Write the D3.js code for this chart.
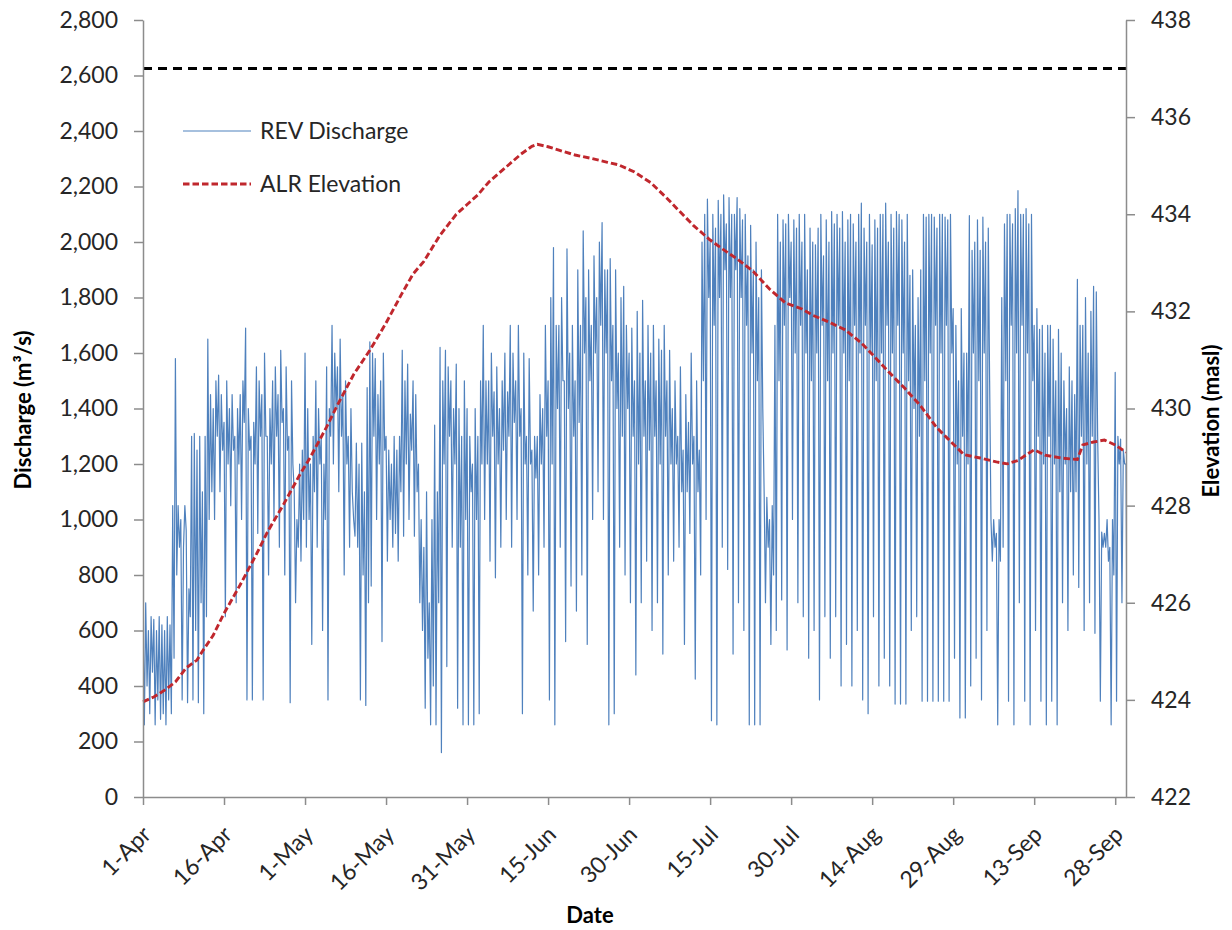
<!DOCTYPE html>
<html><head><meta charset="utf-8">
<script src="https://cdn.jsdelivr.net/npm/d3@7"></script>
<style>
body{margin:0;background:#fff}
text{font-family:Lato,"Open Sans",sans-serif}
</style>
</head><body>
<svg id="c" width="1232" height="930"></svg>
<script>
// ---- data ----
const seriesStart = "2019-04-01";   // first sample
const sampleHours = 6;              // samples every 6 hours (4 per day)
const dischargeApr = [650,260,700,400, 600,300,650,450, 640,260,600,350, 650,280,620,300, 600,260,650,350, 620,300,1050,500, 1580,800,1050,900, 1000,350,900,1050, 960,340,750,650, 1300,350,1310,600, 1250,340,1300,700, 1100,300,1300,650, 1650,1000,1450,1100, 1400,1000,1500,1300, 1520,1100,1450,1250, 1350,650,1500,1200, 1400,1050,1450,1250, 1300,700,1400,1200, 1450,1000,1500,1350, 1690,350,1400,1250, 1300,350,1350,1200, 1550,950,1500,1300, 1450,350,1600,1300, 1300,800,1400,1200, 1500,1000,1550,1300, 1450,900,1610,1350, 1400,800,1550,1250, 1300,340,1500,1200, 1100,700,1000,900, 1200,850,1250,1000];
const dischargeMay = [1600,900,1400,1000, 1200,550,1300,1100, 1500,900,1400,1200, 1300,600,1200,1000, 1550,350,1400,1300, 1700,1200,1600,1400, 1550,1100,1650,1300, 1450,800,1500,1200, 1300,900,1400,1100, 1000,940,1275,900, 1200,350,1275,800, 1100,330,1475,700, 1640,760,1600,1300, 1580,1000,1450,1200, 1500,560,1600,1250, 1300,850,1250,1000, 1200,900,1300,950, 1250,850,1300,1100, 1610,940,1500,1200, 1560,1000,1380,1250, 1500,940,1450,1100, 1200,700,1000,600, 900,320,1100,500, 700,260,1000,400, 1340,260,1100,700, 1620,160,1500,1200, 1610,470,1550,1300, 1500,900,1400,1200, 1560,320,1400,900, 1300,260,1500,1000, 1400,260,1300,1100];
const dischargeJun = [1200,260,1400,1000, 1300,300,1500,1200, 1700,1000,1500,1200, 1500,850,1600,1300, 1460,790,1550,1200, 1400,900,1500,1250, 1600,1000,1460,1300, 1700,900,1600,1350, 1500,1000,1700,1300, 1400,300,1600,1200, 1300,800,1580,1200, 1250,670,1300,1150, 1300,800,1450,1200, 1400,900,1700,1300, 1500,350,1800,1200, 1980,260,1700,1400, 1700,900,1800,1500, 1500,560,1975,1400, 1600,760,1700,1300, 1500,670,1900,1350, 1700,800,2040,1600, 1800,550,1900,1500, 1700,1000,1950,1600, 1800,1100,2000,1700, 2070,1000,1900,1600, 1900,260,1940,1500, 1700,300,1900,1400, 1600,900,1800,1300, 1840,800,1700,1400, 1600,700,1690,1300];
const dischargeJul = [1500,440,1750,1200, 1600,700,1790,1300, 1500,850,1700,1250, 1600,600,1700,1300, 1500,700,1650,1200, 1610,515,1700,1300, 1500,800,1610,1200, 1400,850,1500,1200, 1300,900,1550,1100, 1250,550,1450,1100, 1350,950,1600,1200, 1300,425,1500,1100, 1250,800,2000,1500, 2100,1000,2155,1800, 2000,275,2100,1700, 2050,260,2150,1800, 2100,900,2170,1900, 2065,820,2160,1800, 2100,515,2100,1900, 2160,700,2120,1800, 2080,600,2100,1700, 1950,260,2060,1600, 1900,260,2000,1500, 1800,260,1900,1400, 1100,700,1080,900, 1000,550,1050,800, 1700,600,2100,1500, 2000,710,2080,1700, 2065,530,2100,1800, 2000,1000,2080,1600, 2050,700,2100,1700];
const dischargeAug = [2000,650,2100,1600, 1900,500,2050,1500, 2000,600,1990,1600, 2050,350,2100,1700, 1950,650,2080,1500, 2000,500,2110,1600, 2065,650,2100,1700, 2050,400,2110,1600, 2000,550,2080,1500, 2100,400,2065,1700, 2000,600,2100,1600, 2140,350,2050,1700, 2000,300,2100,1600, 1990,650,2080,1500, 2050,400,2100,1600, 2100,500,2140,1700, 2000,400,2100,1600, 2050,335,2110,1700, 2100,335,2080,1600, 2000,335,2100,1500, 1880,600,1900,1400, 1700,650,1800,1300, 1900,345,2100,1500, 2090,345,2100,1600, 2100,345,2090,1700, 2050,345,2100,1600, 2100,345,2090,1700, 2080,345,2100,1600, 1760,500,1700,1200, 1500,285,1760,1300, 1600,285,1600,1200];
const dischargeSep = [2095,400,1970,1600, 2000,500,2080,1500, 1970,350,2090,1600, 2000,600,2050,1500, 1000,850,1000,900, 950,260,1000,850, 1800,900,2065,1500, 2100,345,2100,1700, 2065,260,2120,1600, 2185,700,2100,1700, 2100,345,2120,1600, 2065,260,2100,1500, 1700,600,1760,1300, 1685,345,1700,1200, 1600,260,1700,1300, 1700,345,1650,1200, 1500,260,1685,1100, 1600,700,1500,1200, 1400,600,1550,1100, 1500,800,1450,1100, 1865,755,1700,1300, 1700,600,1800,1200, 1600,700,1750,1300, 1840,590,1820,1300, 1000,345,955,900, 950,900,1000,850, 900,260,1000,800, 1530,345,1300,1200, 1290,700,1250,1200, 1200,345,1300,1000];

const elevationDates = ["2019-04-01","2019-04-03","2019-04-05","2019-04-07","2019-04-09","2019-04-11","2019-04-12","2019-04-14","2019-04-16","2019-04-19","2019-04-22","2019-04-24","2019-04-27","2019-04-30","2019-05-02","2019-05-05","2019-05-07","2019-05-10","2019-05-13","2019-05-16","2019-05-19","2019-05-21","2019-05-23","2019-05-26","2019-05-29","2019-05-31","2019-06-02","2019-06-04","2019-06-07","2019-06-10","2019-06-12","2019-06-13","2019-06-15","2019-06-17","2019-06-20","2019-06-23","2019-06-26","2019-06-28","2019-06-30","2019-07-01","2019-07-04","2019-07-07","2019-07-09","2019-07-12","2019-07-15","2019-07-18","2019-07-20","2019-07-23","2019-07-26","2019-07-29","2019-08-01","2019-08-03","2019-08-06","2019-08-09","2019-08-12","2019-08-15","2019-08-17","2019-08-20","2019-08-23","2019-08-26","2019-08-28","2019-08-31","2019-09-03","2019-09-06","2019-09-08","2019-09-10","2019-09-12","2019-09-13","2019-09-15","2019-09-18","2019-09-21","2019-09-22","2019-09-24","2019-09-26","2019-09-28","2019-09-30"];
const elevationValues = [423.96,424.06,424.2,424.37,424.66,424.82,425.0,425.33,425.78,426.37,427.0,427.45,428.02,428.63,429.0,429.62,430.07,430.7,431.2,431.76,432.38,432.77,433.03,433.57,434.0,434.2,434.4,434.66,434.95,435.24,435.4,435.44,435.39,435.32,435.22,435.15,435.07,435.02,434.92,434.87,434.65,434.33,434.1,433.76,433.47,433.23,433.08,432.82,432.46,432.17,432.05,431.92,431.78,431.62,431.35,431.0,430.76,430.42,430.05,429.6,429.38,429.05,428.98,428.9,428.86,428.93,429.08,429.15,429.04,428.98,428.95,429.25,429.31,429.35,429.25,429.1];

const referenceElevation = [437];
const xTickDates = ["2019-04-01","2019-04-16","2019-05-01","2019-05-16","2019-05-31","2019-06-15","2019-06-30","2019-07-15","2019-07-30","2019-08-14","2019-08-29","2019-09-13","2019-09-28"];
const dischargeTicks = [0,200,400,600,800,1000,1200,1400,1600,1800,2000,2200,2400,2600,2800];
const elevationTicks = [422,424,426,428,430,432,434,436,438];
const seriesNames = ["REV Discharge","ALR Elevation"];

// ---- chart ----
const svg = d3.select("#c");
const parse = d3.utcParse("%Y-%m-%d");
const L = 143, R = 1126, T = 20, B = 797;
const x = d3.scaleUtc().domain([parse("2019-04-01"), parse("2019-09-30")]).range([L, R]);
const yL = d3.scaleLinear().domain([0, 2800]).range([B, T]);
const yR = d3.scaleLinear().domain([422, 438]).range([B, T]);

const discharge = [].concat(dischargeApr, dischargeMay, dischargeJun, dischargeJul, dischargeAug, dischargeSep);
const t0 = parse(seriesStart);
const dischargeData = discharge.map((v, i) => ({t: d3.utcHour.offset(t0, i * sampleHours), v}));
const elevData = elevationDates.map((d, i) => ({t: parse(d), v: elevationValues[i]}));

const axisColor = "#8c8c8c", textColor = "#262626", fs = 23;

svg.append("defs").append("clipPath").attr("id", "plot")
  .append("rect").attr("x", L).attr("y", T).attr("width", R - L).attr("height", B - T);

// blue discharge
svg.append("path").datum(dischargeData)
  .attr("clip-path", "url(#plot)")
  .attr("fill", "none").attr("stroke", "#4f81bd").attr("stroke-width", 1.2)
  .attr("stroke-linejoin", "round")
  .attr("d", d3.line().x(d => x(d.t)).y(d => yL(d.v)));

// red elevation
svg.append("path").datum(elevData)
  .attr("fill", "none").attr("stroke", "#c0272d").attr("stroke-width", 2.9)
  .attr("stroke-dasharray", "6.5,3")
  .attr("d", d3.line().x(d => x(d.t)).y(d => yR(d.v)));

// black dashed reference level
svg.selectAll(".ref").data(referenceElevation).enter().append("line")
  .attr("x1", L).attr("x2", R).attr("y1", d => yR(d)).attr("y2", d => yR(d))
  .attr("stroke", "#000").attr("stroke-width", 3).attr("stroke-dasharray", "9,6");

function styleAxis(g) {
  g.select(".domain").attr("stroke", axisColor).attr("stroke-width", 1.5);
  g.selectAll(".tick line").attr("stroke", axisColor).attr("stroke-width", 1.5);
  g.selectAll(".tick text").attr("fill", textColor).style("font-size", fs + "px");
}

// left axis
const gL = svg.append("g").attr("transform", `translate(${L},0)`)
  .call(d3.axisLeft(yL).tickValues(dischargeTicks).tickFormat(d3.format(",")).tickSize(9).tickPadding(16).tickSizeOuter(0));
styleAxis(gL);

// right axis
const gR = svg.append("g").attr("transform", `translate(${R},0)`)
  .call(d3.axisRight(yR).tickValues(elevationTicks).tickSize(9).tickPadding(16).tickSizeOuter(0));
styleAxis(gR);

// bottom axis
const gB = svg.append("g").attr("transform", `translate(0,${B})`)
  .call(d3.axisBottom(x).tickValues(xTickDates.map(parse)).tickFormat(d3.utcFormat("%-d-%b")).tickSize(8).tickSizeOuter(0));
styleAxis(gB);
gB.selectAll(".tick text")
  .attr("text-anchor", "end").attr("x", 0).attr("y", 0).attr("dy", 0)
  .attr("transform", "translate(9,39) rotate(-45)");

// axis titles
svg.append("text").attr("transform", "translate(31,410) rotate(-90)")
  .attr("text-anchor", "middle").attr("font-weight", "bold").attr("fill", "#000")
  .style("font-size", "22px").text("Discharge (m³/s)");
svg.append("text").attr("transform", "translate(1219,421) rotate(-90)")
  .attr("text-anchor", "middle").attr("font-weight", "bold").attr("fill", "#000")
  .style("font-size", "22px").text("Elevation (masl)");
svg.append("text").attr("x", 590).attr("y", 923)
  .attr("text-anchor", "middle").attr("font-weight", "bold").attr("fill", "#000")
  .style("font-size", "22px").text("Date");

// legend
const legend = svg.append("g");
const legendStyles = [
  {stroke: "#4f81bd", width: 1.2, dash: null},
  {stroke: "#c0272d", width: 2.9, dash: "6.5,3"}
];
const legendY = d3.scalePoint().domain(seriesNames).range([131, 184]);
seriesNames.forEach((name, i) => {
  const y = legendY(name);
  legend.append("line").attr("x1", 183).attr("x2", 251).attr("y1", y).attr("y2", y)
    .attr("stroke", legendStyles[i].stroke).attr("stroke-width", legendStyles[i].width)
    .attr("stroke-dasharray", legendStyles[i].dash);
  legend.append("text").attr("x", 260).attr("y", y).attr("dy", "0.35em")
    .attr("fill", textColor).style("font-size", fs + "px").text(name);
});
</script>
</body></html>
